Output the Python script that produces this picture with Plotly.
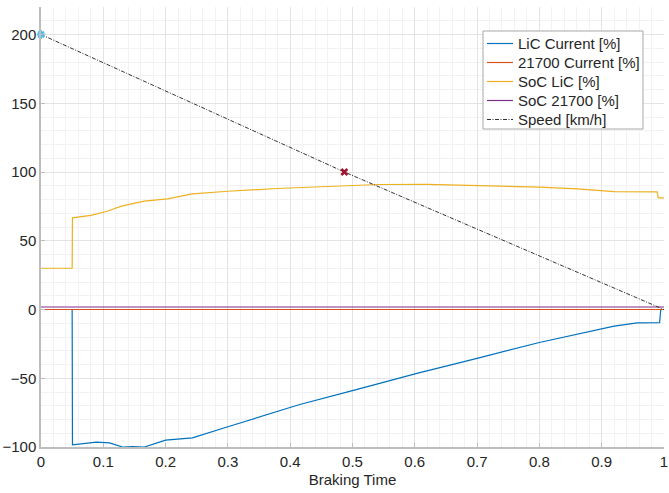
import plotly.graph_objects as go

# Braking time (normalised) and the recorded signals
t_lic = [0.0, 0.05, 0.0505, 0.07, 0.089, 0.11, 0.12, 0.131, 0.147, 0.166, 0.2, 0.243,
         0.3, 0.414, 0.5, 0.605, 0.7, 0.8, 0.92, 0.957, 0.993, 0.995, 1.0]
lic_current = [0.0, 0.0, -98.4, -97.5, -96.5, -97.0, -98.5, -100.0, -99.7, -100.0, -95.0, -93.3,
               -85.3, -69.3, -59.0, -46.3, -35.5, -24.0, -12.1, -9.7, -9.5, 0.0, 0.0]

t_full = [0.0, 1.0]
cell21700_current = [0.0, 0.0]
soc_21700 = [1.8, 1.8]

t_soc = [0.0, 0.05, 0.0505, 0.08, 0.105, 0.12, 0.129, 0.166, 0.203, 0.243, 0.3, 0.379,
         0.45, 0.542, 0.62, 0.701, 0.8, 0.861, 0.92, 0.989, 0.991, 1.0]
soc_lic = [30.0, 30.0, 66.7, 68.5, 71.3, 73.5, 75.2, 78.8, 80.5, 84.1, 86.0, 88.0,
           89.5, 90.9, 91.0, 90.2, 89.0, 87.8, 85.8, 85.6, 81.2, 81.2]

t_speed = [0.0, 0.487, 1.0]
speed = [200.0, 100.0, 0.0]

# Highlighted speed points: start and half speed
start_pt = (0.0, 200.0)
half_pt = (0.487, 100.0)

x_ticks = [0, 0.1, 0.2, 0.3, 0.4, 0.5, 0.6, 0.7, 0.8, 0.9, 1]
x_tick_labels = ["0", "0.1", "0.2", "0.3", "0.4", "0.5", "0.6", "0.7", "0.8", "0.9", "1"]

series_names = ["LiC Current [%]", "21700 Current [%]", "SoC LiC [%]", "SoC 21700 [%]", "Speed [km/h]"]
series_colors = ["#0072BD", "#D95319", "#EDB120", "#7E2F8E", "#333333"]
speed_dash = "4px,1.5px,1px,1.5px"

font_family = "Liberation Sans, Arial, sans-serif"
text_color = "#262626"

W, H = 669, 493
M_L, M_R, M_T, M_B = 41, 5, 7, 46
PW, PH = W - M_L - M_R, H - M_T - M_B


def px_x(px):
    return (px - M_L) / PW


def px_y(py):
    return (H - M_B - py) / PH


fig = go.Figure()
series = [(t_lic, lic_current), (t_full, cell21700_current), (t_soc, soc_lic),
          (t_full, soc_21700), (t_speed, speed)]
for i, (xs, ys) in enumerate(series):
    dash = speed_dash if i == 4 else "solid"
    fig.add_trace(go.Scatter(x=xs, y=ys, mode="lines", name=series_names[i], showlegend=False,
                             line=dict(color=series_colors[i], width=1 if i == 4 else 1.2, dash=dash)))

fig.add_trace(go.Scatter(x=[start_pt[0]], y=[start_pt[1]], mode="markers", showlegend=False,
                         marker=dict(symbol="asterisk", size=7,
                                     line=dict(color="#4DBEEE", width=2)),
                         cliponaxis=False))
fig.add_trace(go.Scatter(x=[half_pt[0]], y=[half_pt[1]], mode="markers", showlegend=False,
                         marker=dict(symbol="x-thin", size=6,
                                     line=dict(color="#A2142F", width=2.5)),
                         cliponaxis=False))

# Legend box drawn in paper coordinates
box_l, box_r, box_t, box_b = 483, 643, 31, 129
shapes = [dict(type="rect", xref="paper", yref="paper",
               x0=px_x(box_l), x1=px_x(box_r), y0=px_y(box_b), y1=px_y(box_t),
               fillcolor="white", line=dict(color="#a8a8a8", width=1), layer="above")]
annotations = []
row_y0, row_step = 43.5, 19
for i, name in enumerate(series_names):
    ry = row_y0 + i * row_step
    shapes.append(dict(type="line", xref="paper", yref="paper",
                       x0=px_x(487), x1=px_x(513), y0=px_y(ry), y1=px_y(ry),
                       line=dict(color=series_colors[i], width=1.2,
                                 dash=speed_dash if i == 4 else "solid"),
                       layer="above"))
    annotations.append(dict(xref="paper", yref="paper", x=px_x(516), y=px_y(ry),
                            xanchor="left", yanchor="middle", showarrow=False, text=name,
                            font=dict(family=font_family, size=15, color=text_color)))

axis_common = dict(
    showline=True, linecolor="#bdbdbd", linewidth=1.5,
    ticks="inside", ticklen=4, tickcolor="#bdbdbd", tickwidth=1,
    showgrid=True, gridcolor="#e3e3e3", gridwidth=1,
    zeroline=False, mirror=False, automargin=False,
    ticklabeloverflow="allow",
    tickfont=dict(family=font_family, size=15, color=text_color),
)

fig.update_xaxes(range=[0, 1.0001], tickvals=x_ticks, ticktext=x_tick_labels,
                 minor=dict(dtick=0.02, tick0=0, showgrid=True, gridcolor="#f2f2f2", ticks=""),
                 title=dict(text="Braking Time", standoff=6,
                            font=dict(family=font_family, size=15, color=text_color)),
                 **axis_common)
fig.update_yaxes(range=[-100, 220], dtick=50,
                 minor=dict(dtick=10, showgrid=True, gridcolor="#f2f2f2", ticks=""),
                 **axis_common)

fig.update_layout(
    width=W, height=H,
    margin=dict(l=M_L, r=M_R, t=M_T, b=M_B, autoexpand=False),
    paper_bgcolor="white", plot_bgcolor="white",
    font=dict(family=font_family, size=15, color=text_color),
    showlegend=False,
    shapes=shapes, annotations=annotations,
)

fig.write_html("out.html")
